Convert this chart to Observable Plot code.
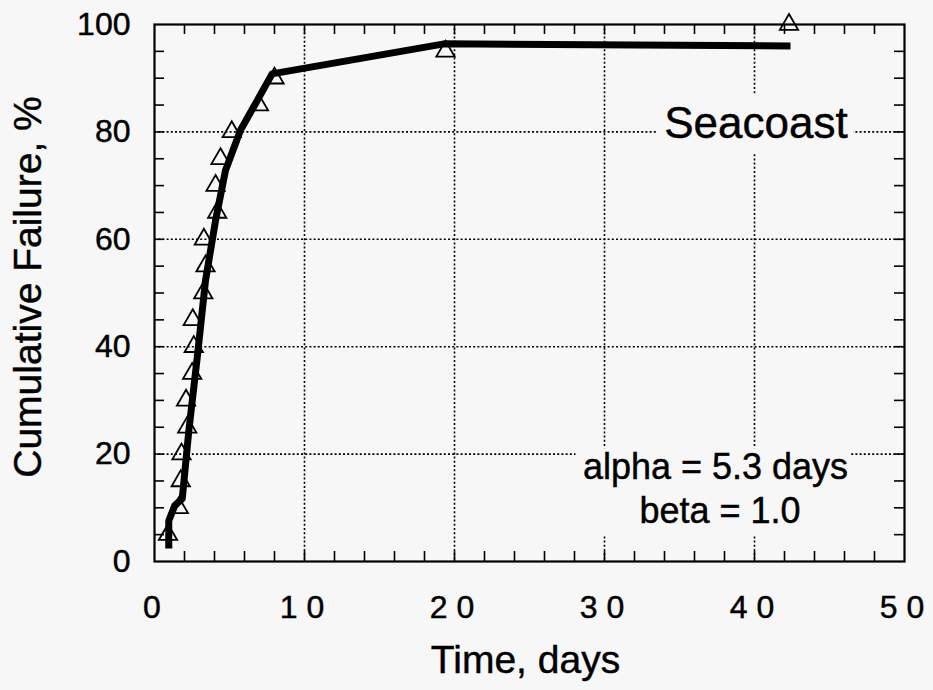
<!DOCTYPE html>
<html><head><meta charset="utf-8">
<script src="https://cdn.jsdelivr.net/npm/d3@7"></script>
<script src="https://cdn.jsdelivr.net/npm/@observablehq/plot@0.6"></script>
<style>
body{margin:0;background:#f7f7f7;}
#chart svg{display:block;}
#chart svg text{stroke:#000;stroke-width:0.45px;}
g[aria-label="x-axis tick label"] text{letter-spacing:9px;}
</style></head><body><div id="chart"></div>
<script>
// Observed failures (triangles): time in days, cumulative failure %
const obsTime = [0.9, 1.62, 1.75, 1.8, 2.18, 2.1, 2.51, 2.62, 2.55, 3.25, 3.4, 3.29, 4.18, 4.07, 4.4, 5.15, 6.96, 8.0, 19.4, 42.3];
const obsPct  = [5, 10, 15, 20, 25, 30, 35, 40, 45, 50, 55, 60, 65, 70, 75, 80, 85, 90, 95, 100];
// Fitted curve (thick line)
const fitTime = [0.95, 0.95, 1.35, 1.85, 2.29, 2.85, 3.4, 4.07, 4.73, 5.73, 6.84, 7.84, 19.3, 42.4];
const fitPct  = [2.4, 7.6, 10.4, 11.7, 24.4, 38, 52.3, 63.5, 72.8, 80.3, 85.8, 90.8, 96.4, 96.0];
// Axis ticks
const xTicks = [0, 10, 20, 30, 40, 50];
const yTicks = [0, 20, 40, 60, 80, 100];
const xGrid = [10, 20, 30, 40];
const yGrid = [20, 40, 60, 80];
const xMinor = [2,4,6,8,10,12,14,16,18,20,22,24,26,28,30,32,34,36,38,40,42,44,46,48];
const yMinor = [5,10,15,20,25,30,35,40,45,50,55,60,65,70,75,80,85,90,95];
// Annotations
const notes = [
  {text: "Seacoast", t: 40.1, pct: 78.8, size: 44},
  {text: "alpha = 5.3 days", t: 37.4, pct: 15.3, size: 36},
  {text: "beta = 1.0", t: 37.7, pct: 7.1, size: 36}
];
const noteBoxes = [
  {t1: 33.5, t2: 46.6, p1: 76, p2: 87},
  {t1: 28.1, t2: 46.4, p1: 4.8, p2: 21}
];

const obs = obsTime.map((t, i) => ({t, pct: obsPct[i]}));
const fit = fitTime.map((t, i) => ({t, pct: fitPct[i]}));

const W = 933, H = 690, mL = 154, mR = 29, mT = 24, mB = 129;
const fw = W - mL - mR, fh = H - mT - mB;
const bg = "#f7f7f7";
const sans = "'Liberation Sans', Arial, Helvetica, sans-serif";

const chart = Plot.plot({
  width: W, height: H,
  marginLeft: mL, marginRight: mR, marginTop: mT, marginBottom: mB,
  x: {domain: [0, 50]},
  y: {domain: [0, 100]},
  style: {background: bg, fontFamily: sans, color: "black"},
  marks: [
    Plot.ruleX(xGrid, {stroke: "black", strokeWidth: 1.6, strokeDasharray: "2,2.2"}),
    Plot.ruleY(yGrid, {stroke: "black", strokeWidth: 1.6, strokeDasharray: "2,2.2"}),
    Plot.rect(noteBoxes, {x1: "t1", x2: "t2", y1: "p1", y2: "p2", fill: bg}),
    Plot.ruleX(xMinor, {insetTop: fh - 10, stroke: "black", strokeWidth: 1.6}),
    Plot.ruleX(xMinor, {insetBottom: fh - 10, stroke: "black", strokeWidth: 1.6}),
    Plot.ruleY(yMinor, {insetRight: fw - 10, stroke: "black", strokeWidth: 1.6}),
    Plot.ruleY(yMinor, {insetLeft: fw - 10, stroke: "black", strokeWidth: 1.6}),
    Plot.frame({stroke: "black", strokeWidth: 2.2}),
    Plot.line(fit, {x: "t", y: "pct", stroke: "black", strokeWidth: 7, strokeLinejoin: "round", strokeLinecap: "butt"}),
    Plot.dot(obs, {x: "t", y: "pct", symbol: "triangle", r: 6.8, fill: "none", stroke: "black", strokeWidth: 1.8}),
    Plot.axisX(xTicks, {tickSize: 0, tickPadding: 34, fontSize: 32, dx: 2, label: null}),
    Plot.axisY(yTicks, {tickSize: 0, tickPadding: 24, fontSize: 32, label: null}),
    Plot.text(notes, {x: "t", y: "pct", text: "text", fontSize: d => d.size, lineAnchor: "bottom", textAnchor: "middle", fill: "black"}),
    Plot.text(["Time, days"], {frameAnchor: "bottom", dx: -4, dy: 111, lineAnchor: "bottom", textAnchor: "middle", fontSize: 39, fill: "black"}),
    Plot.text(["Cumulative Failure, %"], {frameAnchor: "left", dx: -126, dy: -6, rotate: -90, lineAnchor: "middle", textAnchor: "middle", fontSize: 39, fill: "black"})
  ]
});
document.getElementById("chart").appendChild(chart);
</script></body></html>
